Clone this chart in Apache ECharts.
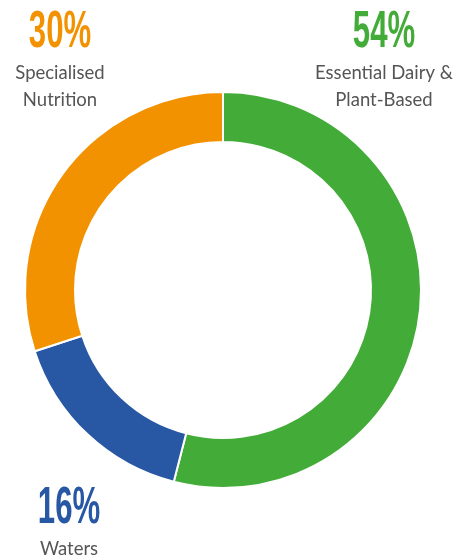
<!DOCTYPE html>
<html><head><meta charset="utf-8">
<script src="https://cdn.jsdelivr.net/npm/echarts@6/dist/echarts.min.js"></script>
<style>html,body{margin:0;padding:0;background:#fff}#c{width:455px;height:558px}</style>
</head><body><div id="c"></div>
<script>
const categories = ['Essential Dairy & Plant-Based', 'Waters', 'Specialised Nutrition'];
const labelLines = [['Essential Dairy &', 'Plant-Based'], ['Waters'], ['Specialised', 'Nutrition']];
const values = [54, 16, 30];
const colors = ['#43AC38', '#2857A4', '#F39200'];
const labelPos = [[384, 31], [69, 507], [60, 31]];

const chart = echarts.init(document.getElementById('c'));
const graphics = [];
values.forEach((v, i) => {
  const [cx, cy] = labelPos[i];
  graphics.push({
    type: 'text', x: cx, y: cy + 2, scaleX: 0.6,
    style: {
      text: v + '%', align: 'center', verticalAlign: 'middle',
      font: 'bold 52px "Liberation Sans", sans-serif', fill: colors[i]
    }
  });
  graphics.push({
    type: 'text', x: cx, y: cy + 42 - 13.5,
    style: {
      text: labelLines[i].join('\n'), align: 'center', verticalAlign: 'top',
      font: 'normal 18.5px Lato, sans-serif', lineHeight: 27, fill: '#555'
    }
  });
});
chart.setOption({
  animation: false,
  series: [{
    type: 'pie',
    center: [223, 290],
    radius: [148, 198],
    startAngle: 90,
    clockwise: true,
    data: categories.map((n, i) => ({ name: n, value: values[i], itemStyle: { color: colors[i] } })),
    itemStyle: { borderColor: '#fff', borderWidth: 2 },
    labelLine: { show: false },
    label: { show: false }
  }],
  graphic: graphics
});
</script></body></html>
